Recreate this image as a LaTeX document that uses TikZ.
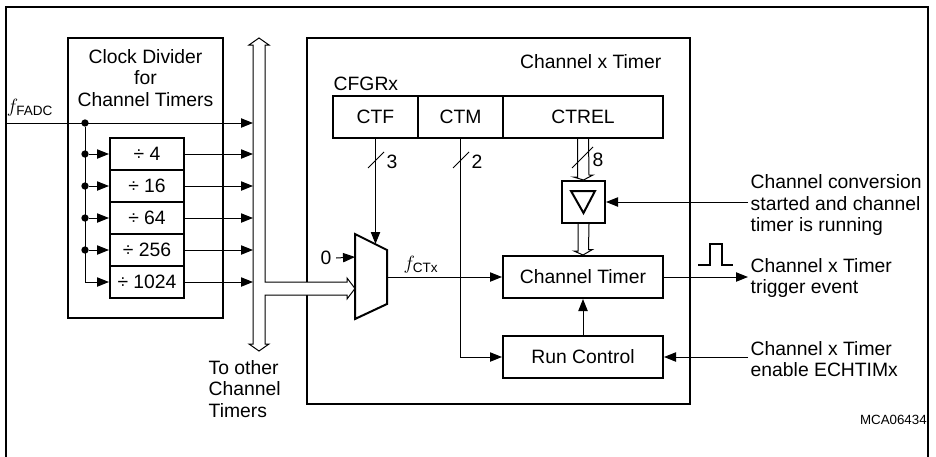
\documentclass[tikz,border=0pt]{standalone}
\usepackage{fontspec}
\usepackage{amsmath}
\setmainfont{Liberation Sans}
\usetikzlibrary{arrows.meta,calc,fit}

\begin{document}
\begin{tikzpicture}[x=0.75pt, y=-0.75pt, line join=miter, >={Triangle[length=9pt,width=7pt]},
  font=\fontsize{14.5}{16}\selectfont,
  box/.style={draw, line width=1.5pt, inner sep=0pt},
  wire/.style={line width=0.75pt},
  bus/.style={line width=0.75pt, fill=white},
  dot/.style={circle, fill, inner sep=0pt, minimum size=5.5pt}]
  \useasboundingbox (0,0) rectangle (936,457);
  % --- frame ---
  \draw[line width=1.5pt] (6,457) -- (6,7) -- (928,7) -- (928,457);
  % --- clock divider ---
  \node[box, fit={(68,38) (223,318)}] (clkdiv) {};
  \node[align=center] (clktitle) at (145.5,78) {Clock Divider\\for\\Channel Timers};
  \node (ffadc) at (30,108) {$f_{\text{FADC}}$};
  \coordinate (fin) at (6,123);
  \coordinate (bus0) at (253,123);
  \node[dot] (j0) at (85,123) {};
  \coordinate (jend) at (85,282);
  \draw[wire,->] (fin) -- (bus0);
  \draw[wire] (j0) -- (jend);
  \foreach \n/\d [count=\i from 0] in {div4/4, div16/16, div64/64, div256/256, div1024/1024} {
    \node[box, fit={(110,138+32*\i) (184,170+32*\i)}, label=center:{÷ \d}] (\n) {};
    \draw[wire,->] (\n.east) -- (\n.east -| bus0);
  }
  \foreach \n [count=\i] in {div4, div16, div64, div256} {
    \node[dot] (j\i) at (\n.west -| j0) {};
    \draw[wire,->] (j\i) -- (\n.west);
  }
  \draw[wire,->] (jend) -- (div1024.west);
  % --- channel x timer ---
  \node[box, fit={(307,38) (690,404)}] (chbox) {};
  \node[anchor=east] (chtitle) at (666,62) {Channel x Timer};
  \node[anchor=west] (cfgr) at (329,84) {CFGRx};
  \node[box, fit={(333,96) (418,138)}, label=center:CTF] (ctf) {};
  \node[box, fit={(418,96) (503,138)}, label=center:CTM] (ctm) {};
  \node[box, fit={(503,96) (663,138)}, label=center:CTREL] (ctrel) {};
  \node[box, fit={(503,256) (663,298)}, label=center:Channel Timer] (ctimer) {};
  \node[box, fit={(503,336) (663,378)}, label=center:Run Control] (runctl) {};
  \node[box, fit={(562,181) (605,223)}] (reload) {};
  \draw[line width=1.5pt] (571,191) -- (595,191) -- (583.5,213) -- cycle;
  % --- multiplexer ---
  \coordinate (muxsel) at (375.5,244);
  \coordinate (mux0) at (355,257);
  \coordinate (muxin) at (355,288.5);
  \coordinate (muxout) at (387,277);
  \draw[line width=1.5pt] (355,234) -- (387,250) -- (387,304) -- (355,319) -- cycle;
  \node (zero) at (326,258) {0};
  \node (fctx) at (421,265) {$f_{\text{CTx}}$};
  \draw[wire,->] (ctf.south) -- (muxsel);
  \draw[wire,->] (zero.east) -- (mux0);
  \draw[wire,->] (muxout) -- (ctimer.west);
  \draw[wire,->] (ctm.south) |- (runctl.west);
  \draw[wire,->] (runctl) -- (ctimer);
  % --- bit widths ---
  \draw[wire] (368,168) -- (384,152);
  \node (w3) at (392,162) {3};
  \draw[wire] (453,168) -- (469,152);
  \node (w2) at (477,162) {2};
  % --- bus to other channel timers ---
  \draw[bus] (253,344) -- (253,45) -- (249,45) -- (259,38) -- (269,45) -- (265,45) -- (265,282)
    -- (347,282) -- (347,278) -- (muxin) -- (347,299) -- (347,295) -- (265,295)
    -- (265,344) -- (269,344) -- (259,351) -- (249,344) -- cycle;
  \node[anchor=west, align=left] (othertxt) at (204,389) {To other\\Channel\\Timers};
  % --- reload path ---
  \draw[bus] ($(ctrel.south)+(-5.5,0)$) -- ++(0,38) -- ++(-4,0) -- (reload.north)
    -- ++(9.5,-5) -- ++(-4,0) -- ($(ctrel.south)+(5.5,0)$);
  \draw[wire] (572,168) -- (593,147);
  \node (w8) at (598,160) {8};
  \draw[bus] ($(reload.south)+(-5.5,0)$) -- ++(0,27) -- ++(-4,0) -- (ctimer.north)
    -- ++(9.5,-5.5) -- ++(-4,0) -- ($(reload.south)+(5.5,0)$);
  % --- outside signals ---
  \coordinate (runin) at (748,202);
  \coordinate (trigout) at (748,277);
  \coordinate (enin) at (748,357);
  \draw[wire,->] (runin) -- (reload.east);
  \draw[wire,->] (ctimer.east) -- (trigout);
  \draw[wire,->] (enin) -- (runctl.east);
  \draw[line width=1.5pt] (698,265) -- (710,265) -- (710,244) -- (722,244) -- (722,265) -- (733,265);
  \node[anchor=west, align=left] (runtxt) at (746,205) {Channel conversion\\started and channel\\timer is running};
  \node[anchor=west, align=left] (trigtxt) at (746,278) {Channel x Timer\\trigger event};
  \node[anchor=west, align=left] (entxt) at (746,359) {Channel x Timer\\enable ECHTIMx};
  \node[anchor=east, inner sep=0pt, font=\fontsize{10}{12}\selectfont] (figid) at (927,420) {MCA06434};
\end{tikzpicture}
\end{document}
